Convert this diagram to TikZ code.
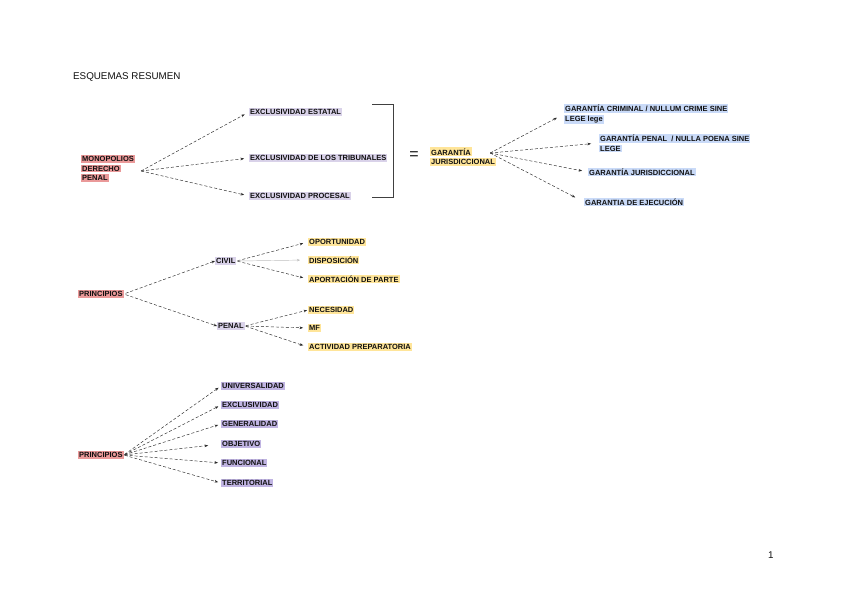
\documentclass[tikz,border=0pt]{standalone}
\usepackage{fontspec}
\setmainfont{Liberation Sans}
\usetikzlibrary{arrows.meta}
\definecolor{hlred}{HTML}{EA9999}
\definecolor{hlyel}{HTML}{FFE599}
\definecolor{hlblue}{HTML}{C9DAF8}
\definecolor{hllav}{HTML}{D9D2E9}
\definecolor{hlpur}{HTML}{C0B4E2}
\definecolor{txt}{HTML}{111111}
\setlength{\fboxsep}{1pt}
\newcommand{\hlR}[1]{\colorbox{hlred}{#1}}
\newcommand{\hlY}[1]{\colorbox{hlyel}{#1}}
\newcommand{\hlB}[1]{\colorbox{hlblue}{#1}}
\newcommand{\hlL}[1]{\colorbox{hllav}{#1}}
\newcommand{\hlP}[1]{\colorbox{hlpur}{#1}}
\tikzset{
  lbl/.style={anchor=west, inner sep=0pt, text=txt, font=\bfseries\fontsize{7.5}{9.5}\selectfont, align=left},
  plain/.style={anchor=west, inner sep=0pt, text=txt, font=\fontsize{9.8}{11}\selectfont},
  conn/.style={draw=black!85, line width=0.45pt, dash pattern=on 3pt off 2pt, -{Stealth[length=3.5pt,width=2.6pt]}},
  faint/.style={draw=black!25, line width=0.45pt, -{Stealth[length=3pt,width=2.4pt]}},
  bracketline/.style={draw=black!75, line width=0.6pt},
}
\begin{document}
\begin{tikzpicture}[x=1pt,y=-1pt]
\fill[white] (0,0) rectangle (848,600);
\useasboundingbox (0,0) rectangle (848,600);

% title and page number
\node[plain] (title) at (73,77) {ESQUEMAS RESUMEN};
\node[plain] (pnum) at (768,555) {1};

% ---------- diagram 1 ----------
\node[lbl] (mono) at (81,168.5) {\hlR{MONOPOLIOS}\\\hlR{DERECHO}\\\hlR{PENAL}};
\node[lbl] (e1) at (249,112) {\hlL{EXCLUSIVIDAD ESTATAL}};
\node[lbl] (e2) at (249,158) {\hlL{EXCLUSIVIDAD DE LOS TRIBUNALES}};
\node[lbl] (e3) at (249,196) {\hlL{EXCLUSIVIDAD PROCESAL}};
\coordinate (mo) at ([xshift=6pt,yshift=-2.5pt]mono.east);
\draw[conn, shorten >=5pt] (mo) -- (e1.west);
\draw[conn, shorten >=5pt] (mo) -- (e2.west);
\draw[conn, shorten >=5pt] (mo) -- (e3.west);

\coordinate (bt) at (372,104);
\coordinate (bb) at (372,197);
\draw[bracketline] (bt) -- ++(21,0) |- (bb);
\node[text=txt, font=\fontsize{16}{16}\selectfont, inner sep=0pt] (eq) at (414,156) {=};

\node[lbl] (gar) at (430,156.5) {\hlY{GARANTÍA}\\\hlY{JURISDICCIONAL}};
\node[lbl] (g1) at (564,114) {\hlB{GARANTÍA CRIMINAL / NULLUM CRIME SINE}\\\hlB{LEGE lege}};
\node[lbl] (g2) at (599,143) {\hlB{GARANTÍA PENAL \ / NULLA POENA SINE}\\\hlB{LEGE}};
\node[lbl] (g3) at (588,172) {\hlB{GARANTÍA JURISDICCIONAL}};
\node[lbl] (g4) at (584,202) {\hlB{GARANTIA DE EJECUCIÓN}};
\coordinate (go) at ([xshift=-6pt,yshift=3.5pt]gar.east);
\draw[conn, shorten >=8pt] (go) -- (g1.west);
\draw[conn, shorten >=8pt] (go) -- (g2.west);
\draw[conn, shorten >=6pt] (go) -- (g3.west);
\draw[conn, shorten >=10pt] (go) -- (g4.west);

% ---------- diagram 2 ----------
\node[lbl] (p1) at (78,294) {\hlR{PRINCIPIOS}};
\node[lbl] (civil) at (215,261) {\hlL{CIVIL}};
\node[lbl] (penal) at (217,326) {\hlL{PENAL}};
\draw[conn, shorten <=2pt] (p1.east) -- (civil.west);
\draw[conn, shorten <=2pt] (p1.east) -- (penal.west);

\node[lbl] (o1) at (308,242) {\hlY{OPORTUNIDAD}};
\node[lbl] (o2) at (308,260) {\hlY{DISPOSICIÓN}};
\node[lbl] (o3) at (308,279) {\hlY{APORTACIÓN DE PARTE}};
\draw[conn, shorten <=1pt, shorten >=5pt] (civil.east) -- (o1.west);
\draw[faint, shorten <=1pt, shorten >=8pt] (civil.east) -- (o2.west);
\draw[conn, shorten <=1pt, shorten >=5pt] (civil.east) -- (o3.west);

\node[lbl] (n1) at (308,310) {\hlY{NECESIDAD}};
\node[lbl] (n2) at (308,328) {\hlY{MF}};
\node[lbl] (n3) at (308,347) {\hlY{ACTIVIDAD PREPARATORIA}};
\draw[conn, shorten <=1pt, shorten >=1pt] (penal.east) -- (n1.west);
\draw[conn, shorten <=1pt, shorten >=5pt] (penal.east) -- (n2.west);
\draw[conn, shorten <=1pt, shorten >=5pt] (penal.east) -- (n3.west);

% ---------- diagram 3 ----------
\node[lbl] (p2) at (78,455) {\hlR{PRINCIPIOS}};
\node[lbl] (u1) at (221,386) {\hlP{UNIVERSALIDAD}};
\node[lbl] (u2) at (221,405) {\hlP{EXCLUSIVIDAD}};
\node[lbl] (u3) at (221,424) {\hlP{GENERALIDAD}};
\node[lbl] (u4) at (221,444) {\hlP{OBJETIVO}};
\node[lbl] (u5) at (221,463) {\hlP{FUNCIONAL}};
\node[lbl] (u6) at (221,483) {\hlP{TERRITORIAL}};
\draw[conn, shorten <=1pt, shorten >=3pt] (p2.east) -- (u1.west);
\draw[conn, shorten <=1pt, shorten >=3pt] (p2.east) -- (u2.west);
\draw[conn, shorten <=1pt, shorten >=3pt] (p2.east) -- (u3.west);
\draw[conn, shorten <=1pt, shorten >=13pt] (p2.east) -- (u4.west);
\draw[conn, shorten <=1pt, shorten >=3pt] (p2.east) -- (u5.west);
\draw[conn, shorten <=1pt, shorten >=3pt] (p2.east) -- (u6.west);
\end{tikzpicture}
\end{document}
